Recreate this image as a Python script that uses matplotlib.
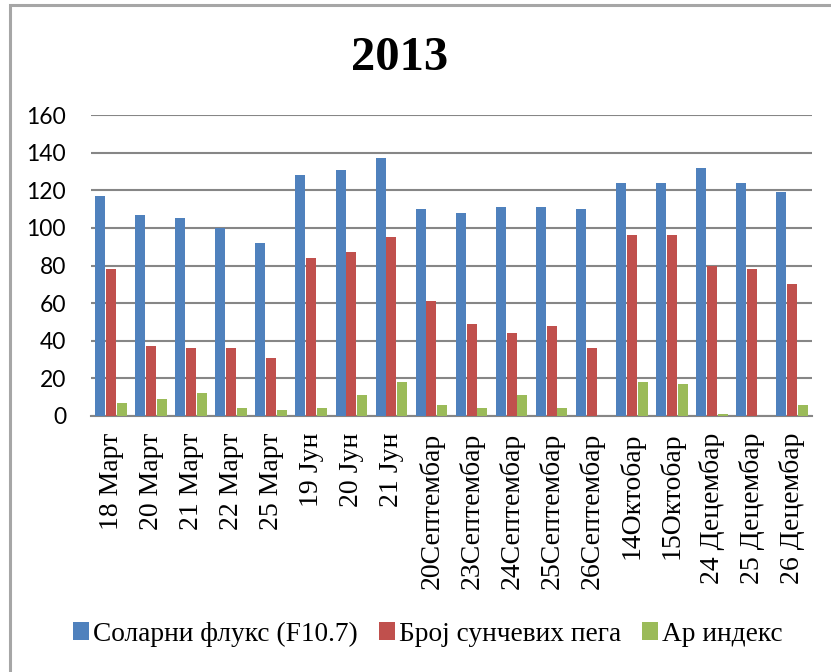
import matplotlib
matplotlib.use("Agg")
import matplotlib.pyplot as plt
import numpy as np
from matplotlib.patches import Rectangle

categories = ["18 Март", "20 Март", "21 Март", "22 Март", "25 Март",
              "19 Јун", "20 Јун", "21 Јун",
              "20Септембар", "23Септембар", "24Септембар", "25Септембар", "26Септембар",
              "14Октобар", "15Октобар",
              "24 Децембар", "25 Децембар", "26 Децембар"]
solar_flux = [117, 107, 105, 100, 92, 128, 131, 137, 110, 108, 111, 111, 110, 124, 124, 132, 124, 119]
sunspots = [78, 37, 36, 36, 31, 84, 87, 95, 61, 49, 44, 48, 36, 96, 96, 80, 78, 70]
ap_index = [7, 9, 12, 4, 3, 4, 11, 18, 6, 4, 11, 4, 0, 18, 17, 1, 0, 6]
series_names = ["Соларни флукс (F10.7)", "Број сунчевих пега", "Ар индекс"]
colors = ["#4F81BD", "#C0504D", "#9BBB59"]
yticks = [0, 20, 40, 60, 80, 100, 120, 140, 160]

W, H = 831, 672
fig = plt.figure(figsize=(W / 100, H / 100), dpi=100)
ax = fig.add_axes([91 / W, 1 - 416 / H, (812 - 91) / W, (416 - 115) / H])

x = np.arange(len(categories))
bw = 0.25
step = 0.27
handles = []
for i, (vals, name, c) in enumerate(zip([solar_flux, sunspots, ap_index], series_names, colors)):
    b = ax.bar(x + (i - 1) * step, vals, width=bw, color=c, label=name, zorder=3)
    handles.append(b)

ax.set_xlim(-0.5, len(categories) - 0.5)
ax.set_ylim(0, 160)
ax.set_yticks(yticks)
ax.yaxis.grid(True, color="#868686", linewidth=1.5, zorder=0)
ax.set_axisbelow(True)
for s in ["top", "right", "left"]:
    ax.spines[s].set_visible(False)
ax.spines["bottom"].set_color("#868686")
ax.spines["bottom"].set_linewidth(1.5)
ax.tick_params(axis="both", length=0)
ax.tick_params(axis="y", pad=18)
ax.set_yticklabels([str(v) for v in yticks], fontfamily="Lato", fontsize=16.5)
ax.set_xticks(x)
ax.set_xticklabels(categories, rotation=90, fontfamily="Liberation Serif", fontsize=20,
                   va="top", ha="center")
ax.tick_params(axis="x", pad=12)

fig.text(400 / W, 1 - 58 / H, "2013", fontfamily="Liberation Serif", fontweight="bold",
         fontsize=35, ha="center", va="center")

leg = fig.legend(handles=handles, labels=series_names, loc="center",
                 bbox_to_anchor=(428 / W, 1 - 634 / H), ncol=3, frameon=False,
                 prop={"family": "Liberation Serif", "size": 19.7},
                 handlelength=0.6, handleheight=0.6, handletextpad=0.15, columnspacing=0.75)

fig.patches.append(Rectangle((10 / W, -0.1), 1.2, (1 - 5 / H) + 0.1, transform=fig.transFigure,
                             fill=False, edgecolor="#A6A6A6", linewidth=2.2))

fig.savefig("out.png", dpi=100)
